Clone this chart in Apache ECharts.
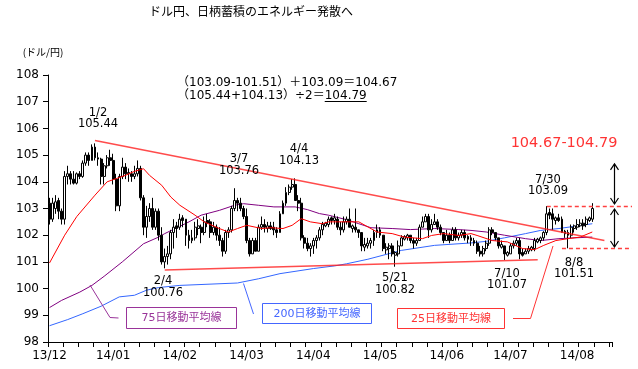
<!DOCTYPE html>
<html><head><meta charset="utf-8">
<script src="https://cdn.jsdelivr.net/npm/echarts@6/dist/echarts.min.js"></script>
<style>html,body{margin:0;padding:0;background:#fff}#c{width:638px;height:369px}</style>
</head><body><div id="c"></div>
<script>
// ---------------- data ----------------
const categories = [
'13/12/11','13/12/12','13/12/13','13/12/16','13/12/17','13/12/18','13/12/19','13/12/20','13/12/23','13/12/24','13/12/25','13/12/26','13/12/27','13/12/30','13/12/31',
'14/01/02','14/01/03','14/01/06','14/01/07','14/01/08','14/01/09','14/01/10','14/01/13','14/01/14','14/01/15','14/01/16','14/01/17','14/01/20','14/01/21','14/01/22','14/01/23','14/01/24','14/01/27','14/01/28','14/01/29','14/01/30','14/01/31',
'14/02/03','14/02/04','14/02/05','14/02/06','14/02/07','14/02/10','14/02/11','14/02/12','14/02/13','14/02/14','14/02/17','14/02/18','14/02/19','14/02/20','14/02/21','14/02/24','14/02/25','14/02/26','14/02/27','14/02/28',
'14/03/03','14/03/04','14/03/05','14/03/06','14/03/07','14/03/10','14/03/11','14/03/12','14/03/13','14/03/14','14/03/17','14/03/18','14/03/19','14/03/20','14/03/21','14/03/24','14/03/25','14/03/26','14/03/27','14/03/28','14/03/31',
'14/04/01','14/04/02','14/04/03','14/04/04','14/04/07','14/04/08','14/04/09','14/04/10','14/04/11','14/04/14','14/04/15','14/04/16','14/04/17','14/04/18','14/04/21','14/04/22','14/04/23','14/04/24','14/04/25','14/04/28','14/04/29','14/04/30',
'14/05/01','14/05/02','14/05/05','14/05/06','14/05/07','14/05/08','14/05/09','14/05/12','14/05/13','14/05/14','14/05/15','14/05/16','14/05/19','14/05/20','14/05/21','14/05/22','14/05/23','14/05/26','14/05/27','14/05/28','14/05/29','14/05/30',
'14/06/02','14/06/03','14/06/04','14/06/05','14/06/06','14/06/09','14/06/10','14/06/11','14/06/12','14/06/13','14/06/16','14/06/17','14/06/18','14/06/19','14/06/20','14/06/23','14/06/24','14/06/25','14/06/26','14/06/27','14/06/30',
'14/07/01','14/07/02','14/07/03','14/07/04','14/07/07','14/07/08','14/07/09','14/07/10','14/07/11','14/07/14','14/07/15','14/07/16','14/07/17','14/07/18','14/07/21','14/07/22','14/07/23','14/07/24','14/07/25','14/07/28','14/07/29','14/07/30','14/07/31',
'14/08/01','14/08/04','14/08/05','14/08/06','14/08/07','14/08/08','14/08/11','14/08/12','14/08/13','14/08/14','14/08/15','14/08/18','14/08/19','14/08/20','14/08/21','14/08/22','14/08/25','14/08/26','14/08/27','14/08/28'
];
const tickLabels = ['13/12','14/01','14/02','14/03','14/04','14/05','14/06','14/07','14/08'];
const yTicks = [98,99,100,101,102,103,104,105,106,107,108];

// [open, close, low, high]
const ohlc = [
[103.2,102.6,102.4,103.4],[102.6,103.2,102.5,103.4],[103.0,103.25,102.8,103.5],[103.3,102.9,102.6,103.4],[102.9,102.6,102.4,103.0],
[102.6,104.2,102.4,104.4],[104.2,104.3,103.9,104.6],[104.3,104.1,103.9,104.4],[104.1,103.95,103.9,104.4],[103.95,104.3,103.9,104.35],
[104.3,104.2,104.1,104.4],[104.2,104.7,104.15,104.8],[104.7,105.0,104.6,105.1],[105.0,104.8,104.6,105.1],[104.8,105.3,104.8,105.4],
[105.3,104.9,104.8,105.44],[104.9,104.85,104.6,105.1],[104.85,104.2,103.9,104.9],[104.2,104.6,103.9,104.7],[104.6,104.9,104.5,105.0],
[104.9,104.8,104.6,105.2],[104.8,104.1,103.9,105.05],[104.1,103.1,102.9,104.3],[103.1,104.2,102.9,104.3],[104.2,104.55,104.1,104.9],
[104.55,104.3,104.1,104.7],[104.3,104.35,104.0,104.5],[104.3,104.2,104.0,104.4],[104.2,104.3,104.1,104.6],[104.3,104.5,104.2,104.8],
[104.5,103.4,103.3,104.6],[103.4,102.3,102.0,103.5],[102.3,102.7,101.9,103.1],[102.7,103.0,102.5,103.2],[103.0,102.3,102.2,103.4],
[102.3,102.9,102.2,103.0],[102.9,102.0,101.8,103.0],[102.0,101.0,100.9,102.3],[101.0,101.2,100.76,101.5],[101.2,101.3,100.9,101.6],
[101.3,102.1,101.1,102.2],[102.1,102.3,101.5,102.6],[102.35,102.25,101.9,102.5],[102.3,102.6,102.2,102.8],[102.65,102.55,102.3,102.75],
[102.6,102.0,101.6,102.6],[102.0,101.8,101.5,102.2],[101.8,101.9,101.7,102.2],[101.9,102.3,101.8,102.5],[102.25,102.35,102.0,102.6],
[102.3,102.1,101.7,102.4],[102.1,102.5,102.0,102.7],[102.55,102.45,102.3,102.8],[102.5,102.1,101.9,102.6],[102.1,102.3,102.0,102.5],
[102.3,102.0,101.8,102.4],[102.0,101.8,101.6,102.3],[101.8,101.4,101.2,101.9],[101.4,102.1,101.3,102.2],[102.1,102.2,101.9,102.3],
[102.2,103.0,102.1,103.1],[103.0,103.3,102.9,103.76],[103.3,103.2,102.9,103.4],[103.2,103.0,102.9,103.4],[103.0,102.7,102.6,103.1],
[102.7,101.8,101.7,103.0],[101.8,101.3,101.2,101.9],[101.3,101.8,101.3,101.9],[101.8,101.4,101.4,101.9],[101.4,102.3,101.4,102.4],
[102.3,102.4,102.2,102.7],[102.4,102.3,102.1,102.6],[102.25,102.35,102.1,102.5],[102.35,102.25,102.2,102.5],[102.3,102.2,102.0,102.5],
[102.2,102.1,101.9,102.3],[102.1,102.8,102.1,102.9],[102.8,103.2,102.8,103.3],[103.2,103.6,103.1,103.8],[103.6,103.8,103.5,103.9],
[103.8,103.9,103.7,104.1],[103.9,103.3,103.3,104.13],[103.3,103.2,102.9,103.5],[103.2,101.9,101.8,103.4],[101.9,101.7,101.5,102.0],
[101.7,101.5,101.4,101.9],[101.5,101.6,101.2,101.7],[101.6,101.8,101.3,101.9],[101.8,101.9,101.5,102.0],[101.9,102.2,101.8,102.3],
[102.2,102.4,102.0,102.5],[102.35,102.45,102.3,102.5],[102.4,102.6,102.3,102.7],[102.65,102.55,102.4,102.7],[102.55,102.65,102.4,102.8],
[102.6,102.3,102.2,102.7],[102.3,102.2,102.0,102.5],[102.2,102.5,102.1,102.7],[102.5,102.6,102.4,102.7],[102.6,102.3,102.3,103.0],
[102.25,102.35,102.1,102.4],[102.3,102.2,102.1,103.0],[102.2,102.1,101.9,102.2],[102.1,101.6,101.4,102.1],[101.55,101.65,101.4,101.9],
[101.6,101.7,101.5,101.9],[101.7,101.8,101.5,101.9],[101.8,102.1,101.6,102.2],[102.1,102.2,101.9,102.4],[102.2,102.0,101.9,102.3],
[102.0,101.5,101.4,102.0],[101.45,101.55,101.3,101.7],[101.5,101.6,101.1,101.7],[101.6,101.3,101.2,101.7],[101.25,101.35,100.82,101.4],
[101.3,101.6,101.2,101.8],[101.6,101.9,101.6,102.0],[101.85,101.95,101.8,102.0],[101.9,102.0,101.8,102.05],[102.0,101.8,101.7,102.0],
[101.8,101.7,101.5,101.9],[101.7,101.8,101.6,101.9],[101.8,102.3,101.8,102.4],[102.3,102.5,102.3,102.7],[102.5,102.7,102.5,102.8],
[102.7,102.2,101.9,102.8],[102.2,102.4,102.1,102.6],[102.4,102.5,102.4,102.8],[102.5,102.3,102.2,102.6],[102.3,102.1,102.0,102.4],
[102.1,101.8,101.7,102.1],[101.8,102.0,101.8,102.2],[102.0,101.8,101.7,102.1],[101.8,102.2,101.8,102.3],[102.2,101.9,101.8,102.3],
[101.9,102.0,101.8,102.1],[102.0,102.1,101.9,102.2],[102.1,101.9,101.8,102.2],[101.95,101.85,101.7,102.0],[101.9,101.8,101.6,102.0],
[101.8,101.7,101.6,101.9],[101.7,101.4,101.3,101.8],[101.4,101.3,101.2,101.6],[101.3,101.5,101.2,101.6],[101.5,101.7,101.4,101.8],
[101.7,102.2,101.6,102.3],[102.2,102.1,102.0,102.3],[102.1,101.9,101.8,102.1],[101.9,101.6,101.5,101.9],[101.55,101.65,101.5,101.8],
[101.6,101.3,101.07,101.6],[101.25,101.35,101.2,101.4],[101.3,101.6,101.3,101.7],[101.6,101.7,101.5,101.8],[101.7,101.8,101.6,101.9],
[101.8,101.3,101.1,101.9],[101.35,101.25,101.2,101.5],[101.3,101.4,101.3,101.5],[101.4,101.5,101.3,101.6],[101.45,101.55,101.4,101.6],
[101.5,101.8,101.4,101.9],[101.75,101.85,101.7,101.9],[101.8,101.9,101.7,101.95],[101.9,102.1,101.8,102.15],[102.1,102.8,102.0,103.09],
[102.85,102.75,102.6,103.0],[102.8,102.6,102.2,103.0],[102.55,102.65,102.4,102.7],[102.65,102.55,102.5,102.8],[102.6,102.1,102.1,102.7],
[102.15,102.05,101.9,102.2],[102.1,102.0,101.51,102.2],[102.0,102.3,101.9,102.4],[102.25,102.35,102.1,102.4],[102.3,102.4,102.2,102.6],
[102.35,102.45,102.3,102.6],[102.45,102.35,102.2,102.6],[102.4,102.6,102.3,102.7],[102.55,102.65,102.5,102.7],[102.6,103.0,102.5,103.2]
];

// moving averages: [category index, value]
const ma25 = [[0,100.96],[5,102.0],[9,102.7],[15,103.5],[19,104.0],[22,104.12],[25,104.24],[28,104.39],[31,104.49],[33,104.24],[37,103.87],[40,103.43],[43,103.12],[48,102.75],[51,102.5],[56,102.25],[59,102.12],[62,102.25],[65,102.37],[70,102.25],[73,102.28],[77,102.25],[80,102.37],[83,102.62],[86,102.5],[90,102.43],[92,102.5],[95,102.5],[102,102.5],[105,102.31],[108,102.12],[113,102.06],[117,101.93],[123,101.87],[126,101.99],[130,102.06],[135,101.99],[139,102.06],[141,101.99],[146,101.8],[151,101.75],[156,101.5],[160,101.46],[163,101.62],[167,101.8],[171,101.87],[175,101.93],[179,102.12]];
const ma75 = [[0,99.29],[4,99.56],[10,99.87],[14,100.12],[18,100.46],[24,101.0],[31,101.68],[36,101.93],[38,102.06],[46,102.5],[50,102.75],[56,102.93],[61,103.12],[64,103.18],[69,103.12],[74,103.06],[81,103.06],[85,102.96],[89,102.81],[92,102.75],[98,102.58],[102,102.43],[106,102.28],[113,102.25],[119,102.21],[127,102.25],[135,102.21],[139,102.18],[144,102.12],[150,102.0],[157,101.87],[162,101.8],[168,101.87],[173,101.9],[179,101.93]];
const ma200 = [[0,98.61],[6,98.84],[11,99.06],[17,99.34],[23,99.69],[28,99.75],[32,99.94],[36,100.04],[43,100.12],[62,100.21],[69,100.37],[76,100.56],[87,100.75],[94,100.85],[98,100.93],[105,101.1],[110,101.25],[116,101.43],[127,101.62],[139,101.71],[144,101.77],[150,101.9],[157,102.06],[162,102.18],[168,102.25],[173,102.33],[179,102.43]];

// trend lines
const resistance = [[15,105.55],[183,101.8]];
const support = [[38,100.7],[161,101.08]];

// levels
const highLevel = 103.09, lowLevel = 101.51, targetLow = 104.67;
const titleText = 'ドル円、日柄蓄積のエネルギー発散へ';
const unitText = '(ドル/円)';
const formulaLines = ['（103.09-101.51）＋103.09＝104.67', '（105.44+104.13）÷2＝'];
const formulaResult = '104.79';
const targetText = '104.67-104.79';
const pointLabels = [
  {date:'1/2', value:'105.44'}, {date:'3/7', value:'103.76'}, {date:'4/4', value:'104.13'},
  {date:'2/4', value:'100.76'}, {date:'5/21', value:'100.82'}, {date:'7/10', value:'101.07'},
  {date:'7/30', value:'103.09'}, {date:'8/8', value:'101.51'}
];
const legendNames = ['75日移動平均線','200日移動平均線','25日移動平均線'];

// ---------------- chart ----------------
const NUM = '"DejaVu Sans","Noto Sans CJK JP",sans-serif';
const JP = '"Noto Sans CJK JP",sans-serif';
const labelIdx = [0,21,43,65,87,109,131,152,174];

const chart = echarts.init(document.getElementById('c'), null, {renderer:'canvas'});
chart.setOption({
  animation:false,
  grid:{left:48, right:26, top:75, bottom:27},
  xAxis:{
    type:'category', data:categories, boundaryGap:true,
    axisLine:{lineStyle:{color:'#000', width:1}},
    axisTick:{show:true, inside:false, length:5, lineStyle:{color:'#000'}, interval:(i)=> i%5===0},
    axisLabel:{interval:(i)=>labelIdx.indexOf(i)>=0, margin:8, color:'#000', fontSize:12, fontFamily:NUM,
      formatter:(v)=>{const t=tickLabels.find(s=>v.indexOf(s)===0); return t||'';}},
    splitLine:{show:false}
  },
  yAxis:{
    type:'value', min:yTicks[0], max:yTicks[yTicks.length-1], interval:1,
    axisLine:{show:true, lineStyle:{color:'#000'}},
    axisTick:{show:true, length:5, lineStyle:{color:'#000'}},
    axisLabel:{color:'#000', fontSize:12, fontFamily:NUM, margin:9},
    splitLine:{show:false}
  },
  series:[
    {type:'line', data:ma200, symbol:'none', lineStyle:{color:'#3366ff', width:1}, z:2},
    {type:'line', data:ma75, symbol:'none', lineStyle:{color:'#800080', width:1}, z:2},
    {type:'candlestick', data:ohlc, barWidth:2.4, z:3,
      itemStyle:{color:'#ffffff', color0:'#000000', borderColor:'#000000', borderColor0:'#000000', borderColorDoji:'#000000', borderWidth:1}},
    {type:'line', data:ma25, symbol:'none', lineStyle:{color:'#ff0000', width:1}, z:4},
    {type:'line', data:resistance, symbol:'none', lineStyle:{color:'rgba(255,30,30,0.8)', width:1.5}, z:5},
    {type:'line', data:support, symbol:'none', lineStyle:{color:'rgba(255,30,30,0.8)', width:1.5}, z:5}
  ]
});

const px = (i,v)=>chart.convertToPixel({xAxisIndex:0,yAxisIndex:0},[i,v]);
const g = [];
function text(x,y,t,font,fill,align){ g.push({type:'text', x:x, y:y, z:100, style:{text:t, font:font, fill:fill||'#000', textAlign:align||'center', align:align||'center', textVerticalAlign:'middle', verticalAlign:'middle'}}); }
function line(pts,stroke,w,dash){ g.push({type:'polyline', z:100, shape:{points:pts}, style:{stroke:stroke, fill:null, lineWidth:w||1, lineDash:dash||null}}); }

// title & unit
text(251,11,titleText,'12px '+JP,'#000');
text(43,52,unitText,'10px '+JP,'#000');

// formula
text(177,83,formulaLines[0],'12px '+NUM,'#000','left');
text(177,96,formulaLines[1],'12px '+NUM,'#000','left');
const cv=document.createElement('canvas').getContext('2d');
cv.font='12px '+NUM; const w0=cv.measureText(formulaLines[1]).width; const w1=cv.measureText(formulaResult).width;
text(177+w0,96,formulaResult,'12px '+NUM,'#000','left');
line([[177+w0,101.5],[177+w0+w1,101.5]],'#000',1);

// target
text(564,143.5,targetText,'14.5px '+NUM,'#ff3333');

// point labels (positions of text)
const lp = [[98,113,124],[239,159,171],[299,149,161],[163,281,293],[395,278,290],[507,274,285],[548,180,191.5],[574,263,274]];
pointLabels.forEach((p,k)=>{ text(lp[k][0],lp[k][1],p.date,'11.5px '+NUM,'#000'); text(lp[k][0],lp[k][2],p.value,'11.5px '+NUM,'#000'); });

// dashed levels
const yH = Math.round(px(164,highLevel)[1])+0.5, xH = px(164,highLevel)[0];
const yL = Math.round(px(169,lowLevel)[1])+0.5, xL = px(169,lowLevel)[0];
line([[xH,yH],[632,yH]],'#ff4040',1.5,[4,3]);
line([[xL,yL],[632,yL]],'#ff4040',1.5,[4,3]);

// arrows
const ax = 614.5, yT = px(0,targetLow)[1];
function arrow(y1,y2){ line([[ax,y1],[ax,y2]],'#000',1.2); line([[ax-4,y1+6],[ax,y1],[ax+4,y1+6]],'#000',1.2); line([[ax-4,y2-6],[ax,y2],[ax+4,y2-6]],'#000',1.2); }
arrow(yT, yH-2.5);
arrow(yH+2.5, yL-1.5);

// legend boxes with leaders
function box(x,y,w,h,col,t){ g.push({type:'rect', z:99, shape:{x:x+0.5,y:y+0.5,width:w,height:h}, style:{fill:'#fff', stroke:col, lineWidth:1}}); text(x+w/2+0.5,y+h/2+1,t,'11px '+NUM,col); }
box(126,307,110,21,'#993399',legendNames[0]);
line([[90,285],[110,317.5],[118.5,318]],'#993399',1);
box(262,303,109,20,'#4466ff',legendNames[1]);
line([[243.5,283.5],[253.5,314]],'#4466ff',1);
box(397,308,107,20,'#ff3333',legendNames[2]);
line([[513,318.5],[530.5,318.5],[553,246]],'#ff3333',1);

chart.setOption({graphic:g});
</script>
</body></html>
